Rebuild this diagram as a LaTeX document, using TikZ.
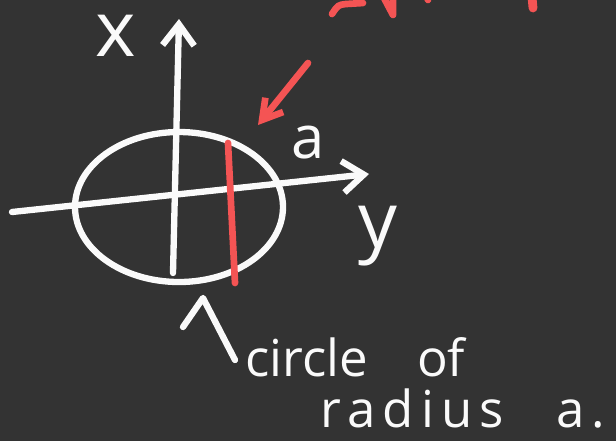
\documentclass[tikz,border=0pt]{standalone}
\usepackage{fontspec}
\setmainfont{Open Sans}
\usepackage{tikz}
\usetikzlibrary{arrows.meta,positioning,calc}
\definecolor{board}{RGB}{51,51,51}
\definecolor{chalk}{RGB}{250,250,250}
\definecolor{chalkred}{RGB}{244,84,84}

\begin{document}
\begin{tikzpicture}[
  x=0.02cm, y=-0.02cm,
  every node/.style={text=chalk, inner sep=0pt},
  pen/.style={draw=chalk, line width=3.6pt, line cap=round, line join=round},
  redpen/.style={draw=chalkred, line width=3.8pt, line cap=round, line join=round},
  axisarr/.style={-{Straight Barb[length=12pt, width=18pt]}},
  redarr/.style={-{Straight Barb[length=11pt, width=13pt]}},
  hand/.style={font=\fontsize{34}{40}\selectfont},
  bighand/.style={font=\fontsize{44}{50}\selectfont},
  caption/.style={font=\fontsize{29}{34}\selectfont, anchor=base west}
]
  \useasboundingbox (0,0) rectangle (616,441);
  \fill[board] (0,0) rectangle (616,441);

  % axes and the circle
  \coordinate (xtail) at (173,273);
  \coordinate (xhead) at (179,19);
  \coordinate (ytail) at (12,212);
  \coordinate (yhead) at (369,174);
  \draw[pen] (179,207) ellipse [x radius=104, y radius=75];
  \draw[pen, axisarr] (xtail) -- (xhead);
  \draw[pen, axisarr] (ytail) -- (yhead);

  \node[bighand] (xlabel) at (116,36) {x};
  \node[hand] (alabel) at (308,143) {a};
  \node[bighand] (ylabel) at (378,236) {y};

  % red chord and pointer
  \coordinate (chordtop) at (228,143);
  \coordinate (chordbot) at (235,283);
  \draw[redpen] (chordtop) -- (chordbot);
  \coordinate (rtail) at (308,63);
  \coordinate (rhead) at (258,125);
  \draw[redpen, redarr] (rtail) -- (rhead);

  % cut-off red writing at the top
  \draw[redpen] (332,14) .. controls (338,5) .. (346,4) -- (363,3);
  \draw[redpen] (384,-2) -- (393,15) -- (393,-2);
  \draw[redpen] (427,-3) -- (428,0);
  \draw[redpen, line width=5pt] (532,-3) -- (533,8);

  % caption with its pointer
  \node[caption] (capone) at (245,376) {circle\hspace{28pt}of};
  \node[caption] (captwo) at (320,427)
    {\addfontfeature{LetterSpace=14}radius\hspace{30pt}a.};
  \coordinate (ptrtip) at (203,298);
  \coordinate (ptrbarb) at (183,327);
  \coordinate (ptrtail) at (235,360);
  \draw[pen] (ptrbarb) -- (ptrtip) -- (ptrtail);
\end{tikzpicture}
\end{document}
